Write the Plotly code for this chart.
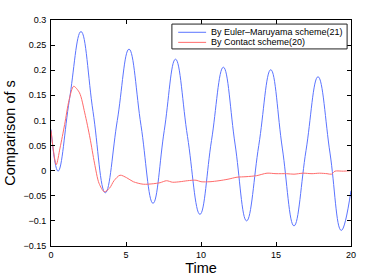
import plotly.graph_objects as go

# Euler-Maruyama scheme (21) - blue
em_time = [0, 0.47, 1.22, 2.0, 2.8, 3.62, 4.42, 5.2, 6.0, 6.8, 7.55, 8.3, 9.1, 9.93,
           10.7, 11.49, 12.27, 13.04, 13.85, 14.65, 15.42, 16.2, 17.0, 17.8, 18.6, 19.35, 20]
em_vals = [0.082, -0.001, 0.14, 0.277, 0.118, -0.044, 0.1, 0.242, 0.09, -0.065, 0.08, 0.222,
           0.068, -0.087, 0.06, 0.206, 0.053, -0.1, 0.05, 0.201, 0.045, -0.11, 0.04, 0.187,
           0.035, -0.119, -0.04]

# Contact scheme (20) - red
ct_time = [0, 0.35, 0.6, 0.91, 1.2, 1.51, 1.9, 2.25, 2.6, 2.9, 3.2, 3.55, 3.9, 4.2, 4.6,
           5.04, 5.49, 6.15, 6.82, 7.27, 7.7, 8.1, 8.6, 9.1, 9.67, 10.0, 10.6, 11.2, 11.8,
           12.4, 13.0, 13.7, 14.4, 15.0, 15.7, 16.2, 16.8, 17.4, 17.9, 18.4, 18.7, 18.93,
           19.5, 20]
ct_vals = [0.08, 0.012, 0.045, 0.092, 0.14, 0.168, 0.155, 0.115, 0.065, 0.015, -0.025,
           -0.042, -0.035, -0.02, -0.009, -0.014, -0.022, -0.027, -0.026, -0.024, -0.02,
           -0.023, -0.022, -0.02, -0.019, -0.022, -0.022, -0.02, -0.017, -0.013, -0.012,
           -0.01, -0.005, -0.006, -0.006, -0.007, -0.005, -0.006, -0.005, -0.006, -0.007,
           -0.001, -0.001, 0.0]

x_ticks = [0, 5, 10, 15, 20]
y_ticks = [0.3, 0.25, 0.2, 0.15, 0.1, 0.05, 0, -0.05, -0.1, -0.15]
y_tick_text = ["0.3", "0.25", "0.2", "0.15", "0.1", "0.05", "0", "\u22120.05", "\u22120.1", "\u22120.15"]

series_names = ["By Euler\u2013Maruyama scheme(21)", "By Contact scheme(20)"]
BLUE = "#5b74ff"
RED = "#ff6b6b"

fig = go.Figure()
fig.add_trace(go.Scatter(x=em_time, y=em_vals, mode="lines", name=series_names[0],
                         line=dict(color=BLUE, width=1, shape="spline", smoothing=1.2)))
fig.add_trace(go.Scatter(x=ct_time, y=ct_vals, mode="lines", name=series_names[1],
                         line=dict(color=RED, width=1, shape="spline", smoothing=0.8)))

axis_common = dict(showline=True, linecolor="black", linewidth=1, mirror="ticks",
                   ticks="inside", ticklen=4, tickcolor="black", showgrid=False,
                   zeroline=False, automargin=False, tickfont=dict(size=9, color="black"))

fig.update_xaxes(range=[0, 20], tickvals=x_ticks, ticklabelstandoff=0,
                 title=dict(text="Time", font=dict(size=14.5), standoff=4), **axis_common)
fig.update_yaxes(range=[-0.15, 0.3], tickvals=y_ticks, ticktext=y_tick_text, ticklabelstandoff=2,
                 title=dict(text="Comparison of s", font=dict(size=14.5), standoff=4), **axis_common)

# legend box
lx0, lx1, ly0, ly1 = 0.403, 0.987, 0.872, 0.982
fig.add_shape(type="rect", xref="paper", yref="paper", x0=lx0, x1=lx1, y0=ly0, y1=ly1,
              line=dict(color="#222", width=1), fillcolor="white", layer="above")
rows = [0.9456, 0.901]
for name, color, yy in zip(series_names, [BLUE, RED], rows):
    fig.add_shape(type="line", xref="paper", yref="paper", x0=0.424, x1=0.517, y0=yy, y1=yy,
                  line=dict(color=color, width=1), layer="above")
    fig.add_annotation(xref="paper", yref="paper", x=0.5277, y=yy, text=name, showarrow=False,
                       xanchor="left", yanchor="middle", font=dict(size=9, color="black"))

fig.update_layout(width=388, height=277, margin=dict(l=51, r=37, t=20, b=31),
                  plot_bgcolor="white", paper_bgcolor="white", showlegend=False,
                  font=dict(family="Liberation Sans, Arial, sans-serif", size=9, color="black"))

fig.write_html("out.html", config={"displayModeBar": False},
               post_script="document.body.style.margin='0';")
